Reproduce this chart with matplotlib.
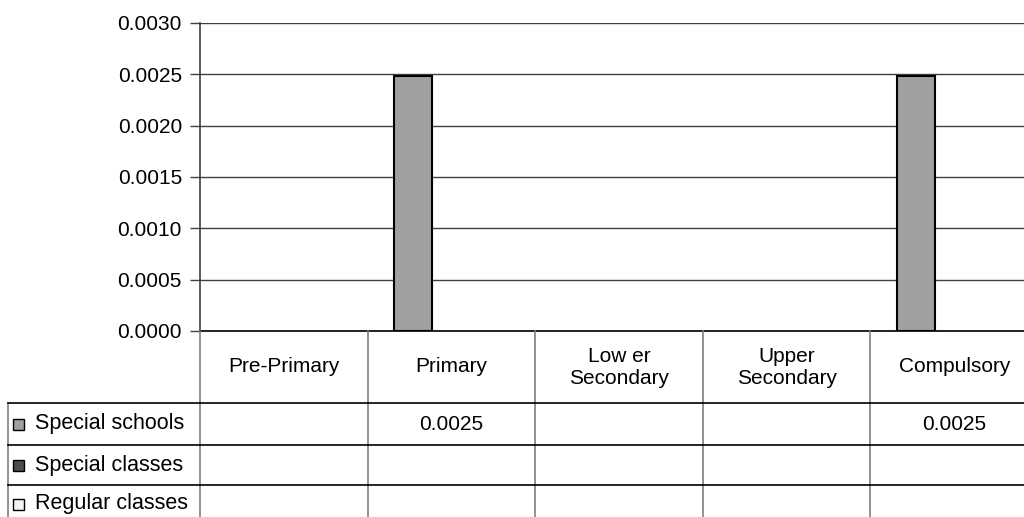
import matplotlib.pyplot as plt
import matplotlib.transforms as mtransforms
import numpy as np

plt.rcParams['font.family'] = ['Liberation Sans', 'DejaVu Sans']

categories = ['Pre-Primary', 'Primary', 'Low er\nSecondary', 'Upper\nSecondary', 'Compulsory']
series_names = ['Special schools', 'Special classes', 'Regular classes']
special_schools = [np.nan, 0.00248, np.nan, np.nan, 0.00248]
special_classes = [np.nan, np.nan, np.nan, np.nan, np.nan]
regular_classes = [np.nan, np.nan, np.nan, np.nan, np.nan]
colors = ['#a0a0a0', '#4d4d4d', '#f4f4f4']
yticks = [0.0, 0.0005, 0.0010, 0.0015, 0.0020, 0.0025, 0.0030]

fs = 15
W, H = 1024, 517
fig = plt.figure(figsize=(W / 100, H / 100), dpi=100)
ax = fig.add_axes([200 / W, 1 - 331 / H, (1038 - 200) / W, (331 - 23) / H])

x = np.arange(len(categories))
bw = 0.227
for i, (vals, c) in enumerate(zip([special_schools, special_classes, regular_classes], colors)):
    ax.bar(x + (i - 1) * bw, vals, width=bw, color=c, edgecolor='black', linewidth=1.5, zorder=3)

ax.set_xlim(-0.5, len(categories) - 0.5)
ax.set_ylim(0, 0.003)
ax.set_yticks(yticks)
ax.set_yticklabels(['%.4f' % t for t in yticks], fontsize=fs)
ax.tick_params(axis='y', length=7, width=1, color='#404040', pad=6)
ax.set_xticks([])
ax.grid(axis='y', color='#404040', linewidth=1, zorder=0)
for s in ['top', 'right']:
    ax.spines[s].set_visible(False)
ax.spines['left'].set_color('#404040')
ax.spines['left'].set_linewidth(1.2)
ax.spines['bottom'].set_color('black')
ax.spines['bottom'].set_linewidth(1.2)

# data table under the chart
tr = mtransforms.blended_transform_factory(ax.transData, fig.transFigure)
def fy(py):
    return 1 - py / H

rows = [331, 403, 445, 485, 517]
for b in np.arange(len(categories) + 1) - 0.5:
    fig.add_artist(plt.Line2D([b, b], [fy(331), fy(517)], transform=tr, color='#808080', lw=1.2))
fig.add_artist(plt.Line2D([8 / W, 8 / W], [fy(403), fy(517)], transform=fig.transFigure, color='#808080', lw=1.2))
for r in rows[1:4]:
    fig.add_artist(plt.Line2D([8 / W, 1], [fy(r), fy(r)], transform=fig.transFigure, color='black', lw=1.2))

for xi, cat in zip(x, categories):
    fig.text(xi, fy(367), cat, transform=tr, ha='center', va='center', fontsize=fs, linespacing=1.2)

all_vals = [special_schools, special_classes, regular_classes]
for j, (name, c, vals) in enumerate(zip(series_names, colors, all_vals)):
    cy = (rows[j + 1] + rows[j + 2]) / 2
    if j == 2:
        cy = 504
    fig.add_artist(plt.Rectangle((13 / W, fy(cy + 5.5)), 11 / W, 11 / H, transform=fig.transFigure,
                                 facecolor=c, edgecolor='black', lw=1))
    fig.text(35 / W, fy(cy), name, ha='left', va='center', fontsize=15.5)
    for xi, v in zip(x, vals):
        if not np.isnan(v):
            fig.text(xi, fy(cy), '%.4f' % round(v, 4), transform=tr, ha='center', va='center', fontsize=fs)

fig.savefig('out.png', dpi=100)
